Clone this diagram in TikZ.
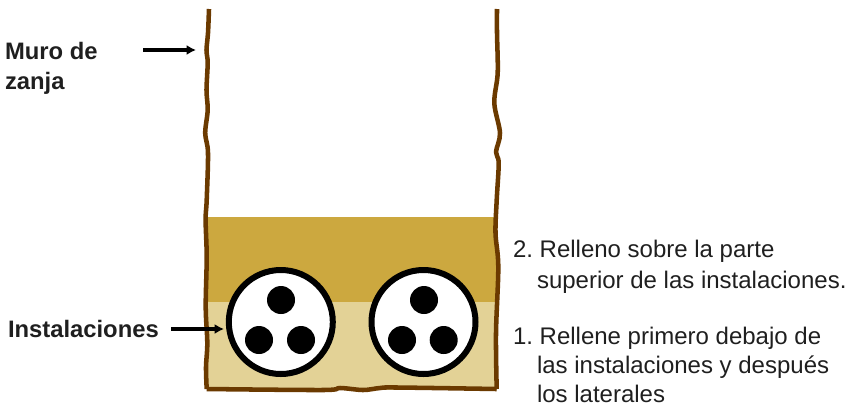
\documentclass[tikz,border=0pt]{standalone}
\usepackage{fontspec}
\setmainfont{Liberation Sans}
\usetikzlibrary{arrows.meta}
\definecolor{wallc}{HTML}{6B3A00}
\definecolor{darkfill}{HTML}{CCA83F}
\definecolor{lightfill}{HTML}{E3D296}
\definecolor{txt}{HTML}{1F1F1F}
\frenchspacing
\tikzset{
  lbl/.style={inner sep=0pt,outer sep=0pt,anchor=north west,align=left,text=txt,font=\fontsize{18}{23}\selectfont},
  lbltight/.style={lbl,font=\fontsize{18}{21.75}\selectfont},
  boldlbl/.style={lbl,font=\fontsize{17.85}{23}\selectfont\bfseries},
  pipe/.style={circle,draw=black,fill=white,line width=4.5pt,minimum size=78pt,inner sep=0pt,outer sep=0pt},
  cable/.style={circle,fill=black,minimum size=21pt,inner sep=0pt},
  pointer/.style={draw=black,line width=2.3pt,-{Latex[length=7pt,width=7.5pt]}},
  wall/.style={draw=wallc,line width=3.4pt,line join=round}
}
\begin{document}
\begin{tikzpicture}[x=0.75pt,y=-0.75pt]
\useasboundingbox (0,0) rectangle (852,404);
\fill[darkfill] (207,217) rectangle (497,302);
\fill[lightfill] (207,302) rectangle (497,390);
\draw[wall] plot[smooth,tension=0.55] coordinates {(209,9) (208,33) (206.5,50) (207.7,63) (206.5,90) (207.7,110) (205.2,133) (208,153) (206.7,200) (205.6,220) (206.7,257) (205.7,307) (207.3,343) (206,367) (206.7,389)};
\draw[wall] plot[smooth,tension=0.55] coordinates {(206.7,389) (323,390) (340,388) (363,390) (380,388) (397,387.5) (496.7,389)};
\draw[wall] plot[smooth,tension=0.55] coordinates {(496.7,389) (496,333) (498.3,267) (495.5,233) (496.7,200) (498.7,163) (496,152) (500,133) (494.3,103) (497.7,73) (497,33) (497,9)};
\node[pipe] (p1) at (280.8,322) {};
\node[pipe] (p2) at (423.5,322) {};
\node[cable] (c1) at (281,300) {};
\node[cable] (c2) at (259,340) {};
\node[cable] (c3) at (301,340) {};
\node[cable] (c4) at (424,300) {};
\node[cable] (c5) at (402,340) {};
\node[cable] (c6) at (443.7,340) {};
\node[boldlbl] (muro) at (5,42) {Muro de\\zanja};
\node[boldlbl] (inst) at (8,320) {Instalaciones};
\node[lbl] (t2) at (513,240) {2. Relleno sobre la parte\\\hspace*{18pt}superior de las instalaciones.};
\node[lbltight] (t1) at (513,327) {1. Rellene primero debajo de\\\hspace*{18pt}las instalaciones y después\\\hspace*{18pt}los laterales};
\coordinate (ma) at (143,50);
\coordinate (mb) at (196,50);
\coordinate (ia) at (171,329);
\coordinate (ib) at (224,329);
\draw[pointer] (ma) -- (mb);
\draw[pointer] (ia) -- (ib);
\end{tikzpicture}
\end{document}
